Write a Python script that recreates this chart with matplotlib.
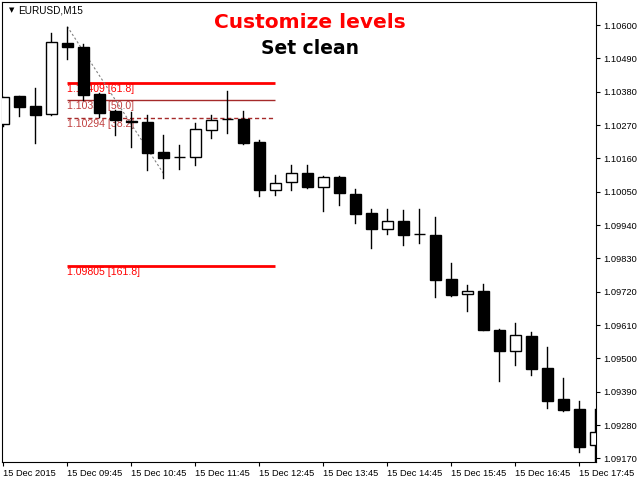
import matplotlib
matplotlib.use("Agg")
import matplotlib.pyplot as plt
from matplotlib.patches import Rectangle

# M15 bars, 15 Dec 2015 08:45 .. 18:00
opens = [1.10274, 1.10366, 1.10333, 1.10307, 1.10540, 1.10527, 1.10372, 1.10317,
         1.10283, 1.10279, 1.10180, 1.10164, 1.10164, 1.10252, 1.10290, 1.10290,
         1.10213, 1.10054, 1.10083, 1.10113, 1.10067, 1.10098, 1.10043, 1.09979,
         1.09928, 1.09953, 1.09911, 1.09907, 1.09762, 1.09711, 1.09722, 1.09594,
         1.09525, 1.09574, 1.09468, 1.09366, 1.09333, 1.09214]
highs = [1.10364, 1.10366, 1.10392, 1.10575, 1.10595, 1.10537, 1.10376, 1.10320,
         1.10312, 1.10303, 1.10237, 1.10203, 1.10278, 1.10303, 1.10383, 1.10317,
         1.10221, 1.10105, 1.10138, 1.10138, 1.10102, 1.10102, 1.10058, 1.09992,
         1.09992, 1.09990, 1.09993, 1.09966, 1.09816, 1.09742, 1.09745, 1.09598,
         1.09618, 1.09587, 1.09537, 1.09436, 1.09359, 1.09332]
lows = [1.10267, 1.10300, 1.10212, 1.10303, 1.10488, 1.10353, 1.10298, 1.10237,
        1.10197, 1.10120, 1.10094, 1.10124, 1.10139, 1.10228, 1.10245, 1.10208,
        1.10036, 1.10039, 1.10056, 1.10062, 1.09987, 1.10007, 1.09948, 1.09865,
        1.09910, 1.09875, 1.09880, 1.09704, 1.09706, 1.09657, 1.09592, 1.09426,
        1.09478, 1.09446, 1.09337, 1.09327, 1.09191, 1.09150]
closes = [1.10364, 1.10331, 1.10304, 1.10543, 1.10526, 1.10369, 1.10311, 1.10285,
          1.10280, 1.10179, 1.10162, 1.10164, 1.10256, 1.10287, 1.10290, 1.10212,
          1.10054, 1.10080, 1.10113, 1.10067, 1.10098, 1.10045, 1.09978, 1.09928,
          1.09953, 1.09908, 1.09911, 1.09759, 1.09708, 1.09721, 1.09594, 1.09525,
          1.09577, 1.09465, 1.09360, 1.09330, 1.09208, 1.09256]

time_labels = ["15 Dec 2015", "15 Dec 09:45", "15 Dec 10:45", "15 Dec 11:45",
               "15 Dec 12:45", "15 Dec 13:45", "15 Dec 14:45", "15 Dec 15:45",
               "15 Dec 16:45", "15 Dec 17:45"]
price_ticks = [1.09170, 1.09280, 1.09390, 1.09500, 1.09610, 1.09720, 1.09830,
               1.09940, 1.10050, 1.10160, 1.10270, 1.10380, 1.10490, 1.10600]

# fibo levels drawn by the indicator
fib_prices = [1.10409, 1.10352, 1.10294, 1.09805]
fib_names = ["61.8", "50.0", "38.2", "161.8"]
fib_start, fib_end = 4, 17
trend_x = [4, 10]
trend_y = [1.10595, 1.10111]

plt.rcParams["font.family"] = ["Liberation Sans", "DejaVu Sans"]

fig = plt.figure(figsize=(6.4, 4.8), dpi=100)
ax = fig.add_axes([2 / 640, 18 / 480, 594 / 640, 460 / 480])

# fibo objects (behind candles)
styles = [("#ff0000", 2.0, "-", "#ff0000"),
          ("#a52a2a", 1.0, "-", "#c04040"),
          ("#a52a2a", 1.0, (0, (3, 2)), "#c04040"),
          ("#ff0000", 2.0, "-", "#ff0000")]
for p, name, (lc, lw, ls, tc) in zip(fib_prices, fib_names, styles):
    ax.plot([fib_start, fib_end], [p, p], color=lc, lw=lw, ls=ls, zorder=1,
            solid_capstyle="butt")
    ax.text(fib_start, p - 0.00003, "%.5f [%s]" % (p, name), color=tc,
            fontsize=7.6, va="top", ha="left", zorder=1)
ax.plot(trend_x, trend_y, color="#808080", lw=0.8, ls=(0, (2, 2)), zorder=1)

w = 0.66
for i, (o, h, l, c) in enumerate(zip(opens, highs, lows, closes)):
    ax.plot([i, i], [l, h], color="black", lw=1, zorder=2)
    bottom = min(o, c)
    face = "white" if c > o else "black"
    ax.add_patch(Rectangle((i - w / 2, bottom), w, abs(c - o), facecolor=face,
                           edgecolor="black", lw=1, zorder=3))

ax.set_xlim(-0.08, 37.04)
ax.set_ylim(1.09158, 1.10676)

ax.yaxis.tick_right()
ax.set_yticks(price_ticks)
ax.set_yticklabels(["%.5f" % v for v in price_ticks])
ax.set_xticks(range(0, 37, 4))
ax.set_xticklabels(time_labels, ha="left")
ax.tick_params(axis="both", labelsize=6.7, length=3, width=0.8, pad=2,
               direction="out")
for s in ax.spines.values():
    s.set_linewidth(0.8)

ax.text(0.011, 0.982, "\u25bc", transform=ax.transAxes, fontsize=5,
        va="center", ha="left", family="DejaVu Sans")
ax.text(0.027, 0.982, "EURUSD,M15", transform=ax.transAxes, fontsize=7.2,
        va="center", ha="left")
fig.text(310 / 640, 1 - 23 / 480, "Customize levels", color="#ff0000",
         fontsize=14.5, fontweight="heavy", ha="center", va="center",
         family="DejaVu Sans")
fig.text(310 / 640, 1 - 49 / 480, "Set clean", color="black",
         fontsize=13.5, fontweight="heavy", ha="center", va="center",
         family="DejaVu Sans")

plt.savefig("out.png", dpi=100)
